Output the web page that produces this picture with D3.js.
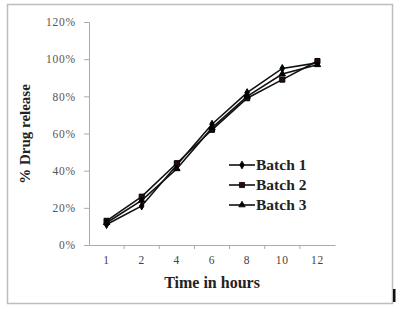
<!DOCTYPE html>
<html lang="en">
<head>
<meta charset="utf-8">
<title>Drug release</title>
<script src="https://d3js.org/d3.v7.min.js"></script>
<style>
  body { margin: 0; background: #fff; }
</style>
</head>
<body>
<div id="chart"></div>
<script>
var hours   = ["1", "2", "4", "6", "8", "10", "12"];
var batch1  = [11, 21, 43, 65, 82, 95, 98];
var batch2  = [13, 26, 44, 62, 79, 89, 99];
var batch3  = [12, 24, 41, 63, 80, 92, 97];
var yTicks  = [0, 20, 40, 60, 80, 100, 120];
var names   = ["Batch 1", "Batch 2", "Batch 3"];

var series = [
  { name: names[0], values: batch1, shape: d3.symbolDiamond, size: 18, fill: "#000" },
  { name: names[1], values: batch2, shape: d3.symbolSquare, size: 26, fill: "#2a0a12" },
  { name: names[2], values: batch3, shape: d3.symbolTriangle, size: 18, fill: "#000" }
];

var width = 404, height = 312;
var svg = d3.select("#chart").append("svg").attr("width", width).attr("height", height);

// outer frame
svg.append("rect").attr("x", 7.5).attr("y", 4.5).attr("width", 385).attr("height", 299)
  .attr("fill", "none").attr("stroke", "#bdbdbd").attr("stroke-width", 1.5);
// stray mark at bottom right
svg.append("rect").attr("x", 393).attr("y", 289).attr("width", 2.5).attr("height", 13).attr("fill", "#111");

var x = d3.scaleBand().domain(hours).range([89, 335]);
var y = d3.scaleLinear().domain([0, 120]).range([245, 22]);

// y axis
var gy = svg.append("g").attr("transform", "translate(89,0)")
  .call(d3.axisLeft(y).tickValues(yTicks).tickSize(5).tickPadding(8).tickFormat(function (d) { return d + "%"; }));
gy.selectAll("path, line").attr("stroke", "#aaa");
gy.selectAll("text").attr("fill", "#555").style("font-family", "Liberation Serif")
  .style("font-size", "11.5px").style("letter-spacing", "0.8px");

// x axis, ticks at category boundaries
var gx = svg.append("g").attr("transform", "translate(0,245)")
  .call(d3.axisBottom(x).tickSize(0).tickPadding(11));
gx.select("path").attr("stroke", "#aaa");
gx.selectAll("text").attr("fill", "#444").style("font-family", "Liberation Serif")
  .style("font-size", "11.5px").style("letter-spacing", "0.8px");
gx.selectAll(".bound").data(hours.slice(1)).enter().append("line")
  .attr("x1", function (d) { return x(d); }).attr("x2", function (d) { return x(d); })
  .attr("y1", 0).attr("y2", 4).attr("stroke", "#aaa");

// titles
svg.append("text").attr("x", 212).attr("y", 288).attr("text-anchor", "middle")
  .style("font-family", "Liberation Serif").style("font-weight", "bold").style("font-size", "16px")
  .attr("fill", "#222").text("Time in hours");
svg.append("text").attr("transform", "translate(30,134) rotate(-90)").attr("text-anchor", "middle")
  .style("font-family", "Liberation Serif").style("font-weight", "bold").style("font-size", "15px")
  .attr("fill", "#222").text("% Drug release");

// lines and markers
var line = d3.line()
  .x(function (d, i) { return x(hours[i]) + x.bandwidth() / 2; })
  .y(function (d) { return y(d); });

series.forEach(function (s) {
  svg.append("path").attr("d", line(s.values)).attr("fill", "none")
    .attr("stroke", "#111").attr("stroke-width", 1.6);
  svg.selectAll(null).data(s.values).enter().append("path")
    .attr("d", d3.symbol().type(s.shape).size(s.size))
    .attr("transform", function (d, i) { return "translate(" + (x(hours[i]) + x.bandwidth() / 2) + "," + y(d) + ")"; })
    .attr("fill", s.fill).attr("stroke", "#000").attr("stroke-width", 1);
});

// legend
var lg = svg.append("g").attr("transform", "translate(229,165)");
series.forEach(function (s, i) {
  var g = lg.append("g").attr("transform", "translate(0," + (i * 20) + ")");
  g.append("line").attr("x1", 0).attr("x2", 26).attr("y1", 0).attr("y2", 0)
    .attr("stroke", "#111").attr("stroke-width", 1.6);
  g.append("path").attr("d", d3.symbol().type(s.shape).size(s.size)).attr("transform", "translate(13,0)")
    .attr("fill", s.fill).attr("stroke", "#000").attr("stroke-width", 0.8);
  g.append("text").attr("x", 27).attr("y", 5)
    .style("font-family", "Liberation Serif").style("font-weight", "bold").style("font-size", "15.5px")
    .attr("fill", "#222").text(s.name);
});
</script>
</body>
</html>
